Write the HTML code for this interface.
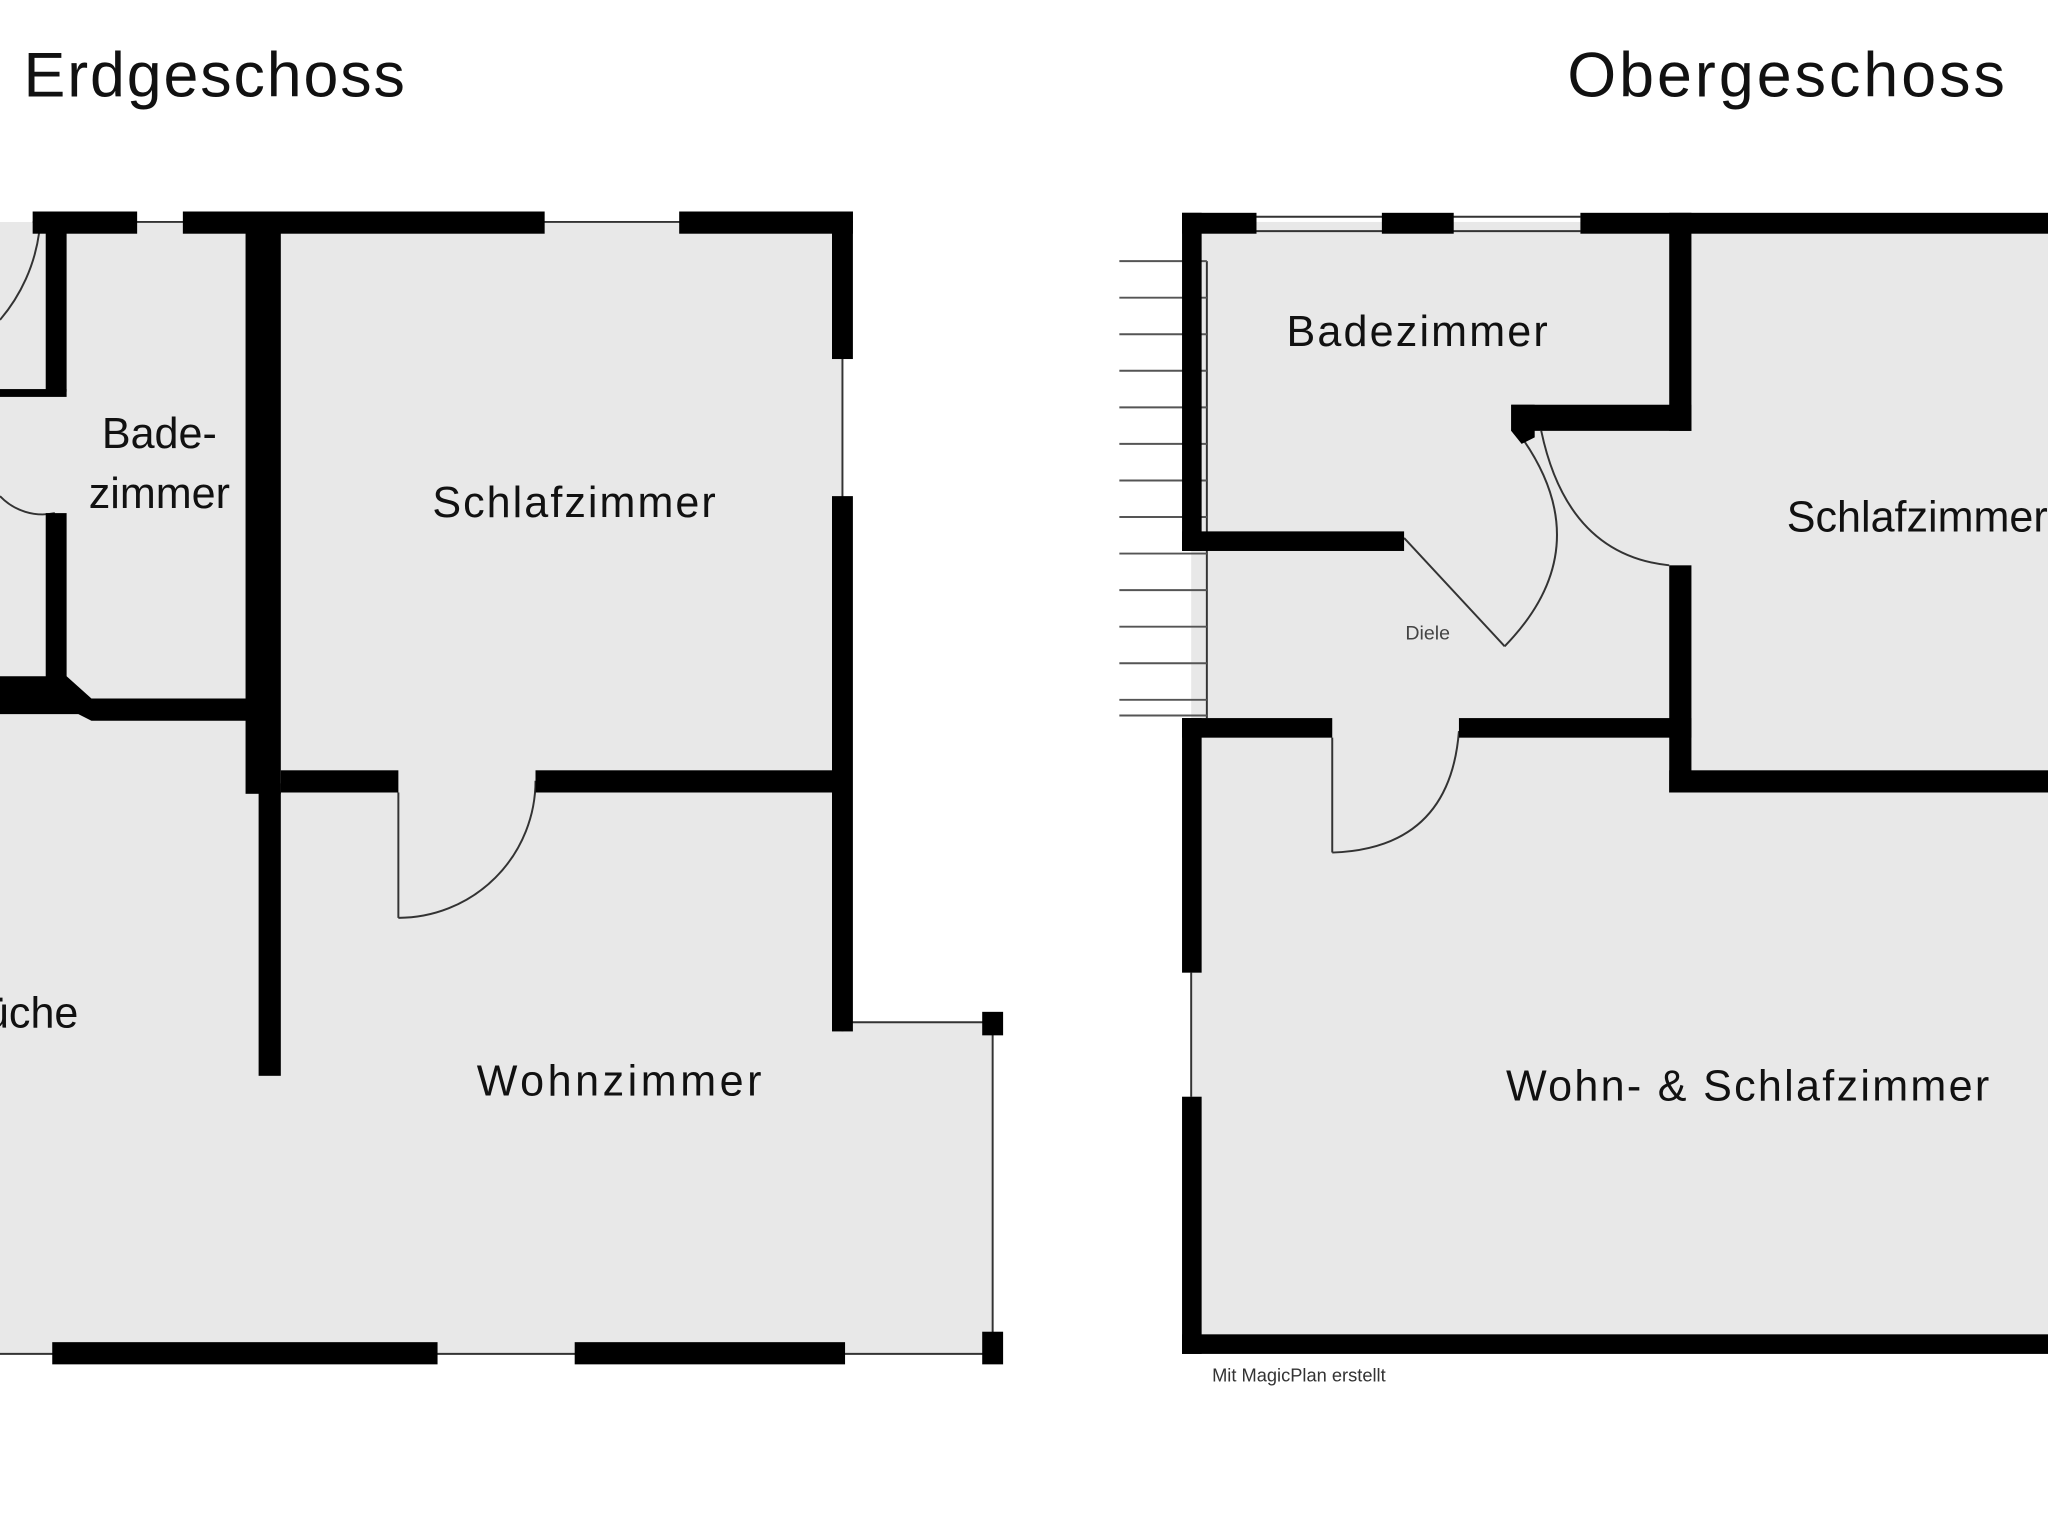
<!DOCTYPE html>
<html><head><meta charset="utf-8"><style>
html,body{margin:0;padding:0;background:#fff;}
svg{display:block;}
text{font-family:"Liberation Sans",sans-serif;fill:#111;}
</style></head><body>
<svg width="2048" height="1538" viewBox="0 0 1568 1178" preserveAspectRatio="none" xmlns="http://www.w3.org/2000/svg">
<rect width="1568" height="1178" fill="#fff"/>
<!-- titles -->
<text x="18" y="74" font-size="48" textLength="292">Erdgeschoss</text>
<text x="1200" y="74" font-size="48" textLength="335">Obergeschoss</text>

<!-- LEFT PLAN fill -->
<path d="M0,170 H645 V783 H760 V1037 H0 Z" fill="#e8e8e8"/>
<!-- thin lines -->
<g stroke="#333" stroke-width="1.5" fill="none">
<line x1="25" y1="170" x2="653" y2="170"/>
<line x1="645" y1="162" x2="645" y2="790"/>
<line x1="645" y1="783" x2="760" y2="783"/>
<line x1="760" y1="783" x2="760" y2="1037"/>
<line x1="0" y1="1037" x2="760" y2="1037"/>
<line x1="305" y1="607" x2="305" y2="703"/>
<path d="M305,703 A105,105 0 0 0 410,598"/>
<path d="M30,178 A130,130 0 0 1 0,245"/>
<path d="M0,380 A45,45 0 0 0 42,393"/>
</g>
<g fill="#000">
<rect x="25" y="162" width="80" height="17"/>
<rect x="140" y="162" width="277" height="17"/>
<rect x="520" y="162" width="133" height="17"/>
<rect x="637" y="162" width="16" height="113"/>
<rect x="637" y="380" width="16" height="410"/>
<rect x="35" y="170" width="16" height="130"/>
<rect x="0" y="298" width="51" height="6"/>
<rect x="35" y="393" width="16" height="130"/>
<path d="M0,518 H51 L70,535 H190 V552 H70 L60,547 H0 Z"/>
<rect x="188" y="162" width="27" height="446"/>
<rect x="198" y="600" width="17" height="224"/>
<rect x="215" y="590" width="90" height="17"/>
<rect x="410" y="590" width="235" height="17"/>
<rect x="752" y="775" width="16" height="18"/>
<rect x="752" y="1020" width="16" height="25"/>
<rect x="40" y="1028" width="295" height="17"/>
<rect x="440" y="1028" width="207" height="17"/>
</g>
<text x="122" y="343" font-size="33" text-anchor="middle">Bade-</text>
<text x="122" y="389" font-size="33" text-anchor="middle">zimmer</text>
<text x="331" y="396" font-size="33" textLength="217">Schlafzimmer</text>
<text x="60" y="787" font-size="33" text-anchor="end">Küche</text>
<text x="365" y="839" font-size="33" textLength="218">Wohnzimmer</text>

<!-- RIGHT PLAN fill -->
<rect x="912" y="170" width="656" height="860" fill="#e8e8e8"/>
<g stroke="#333" stroke-width="1.5" fill="none">
<line x1="962" y1="166" x2="1210" y2="166"/>
<line x1="962" y1="177" x2="1210" y2="177"/>
<line x1="912" y1="745" x2="912" y2="840"/>
<line x1="924" y1="200" x2="924" y2="550"/>
<line x1="1075" y1="412" x2="1152" y2="495"/>
<path d="M1165,335 Q1225,420 1152,495"/>
<path d="M1180,330 Q1200,425 1278,433"/>
<line x1="1020" y1="565" x2="1020" y2="653"/>
<path d="M1020,653 Q1110,650 1117,560"/>
</g>
<g stroke="#555" stroke-width="1.5">
<line x1="857" y1="200" x2="924" y2="200"/>
<line x1="857" y1="228" x2="924" y2="228"/>
<line x1="857" y1="256" x2="924" y2="256"/>
<line x1="857" y1="284" x2="924" y2="284"/>
<line x1="857" y1="312" x2="924" y2="312"/>
<line x1="857" y1="340" x2="924" y2="340"/>
<line x1="857" y1="368" x2="924" y2="368"/>
<line x1="857" y1="396" x2="924" y2="396"/>
<line x1="857" y1="424" x2="924" y2="424"/>
<line x1="857" y1="452" x2="924" y2="452"/>
<line x1="857" y1="480" x2="924" y2="480"/>
<line x1="857" y1="508" x2="924" y2="508"/>
<line x1="857" y1="536" x2="924" y2="536"/>
<line x1="857" y1="548" x2="924" y2="548"/>
</g>
<g fill="#000">
<rect x="905" y="163" width="57" height="16"/>
<rect x="1058" y="163" width="55" height="16"/>
<rect x="1210" y="163" width="358" height="16"/>
<rect x="905" y="163" width="15" height="259"/>
<rect x="905" y="550" width="15" height="195"/>
<rect x="905" y="840" width="15" height="197"/>
<rect x="1278" y="163" width="17" height="167"/>
<rect x="1157" y="310" width="138" height="20"/>
<path d="M1157,310 H1175 V335 L1165,340 L1157,330 Z"/>
<rect x="1278" y="433" width="17" height="174"/>
<rect x="905" y="407" width="170" height="15"/>
<rect x="905" y="550" width="115" height="15"/>
<rect x="1117" y="550" width="178" height="15"/>
<rect x="1278" y="590" width="290" height="17"/>
<rect x="905" y="1022" width="663" height="15"/>
</g>
<text x="985" y="265" font-size="33" textLength="200">Badezimmer</text>
<text x="1368" y="407" font-size="33">Schlafzimmer</text>
<text x="1076" y="490" font-size="15" fill="#444" style="fill:#444">Diele</text>
<text x="1153" y="843" font-size="33" textLength="370">Wohn- &amp; Schlafzimmer</text>
<text x="928" y="1058" font-size="14" fill="#333" style="fill:#333">Mit MagicPlan erstellt</text>
</svg>
</body></html>
